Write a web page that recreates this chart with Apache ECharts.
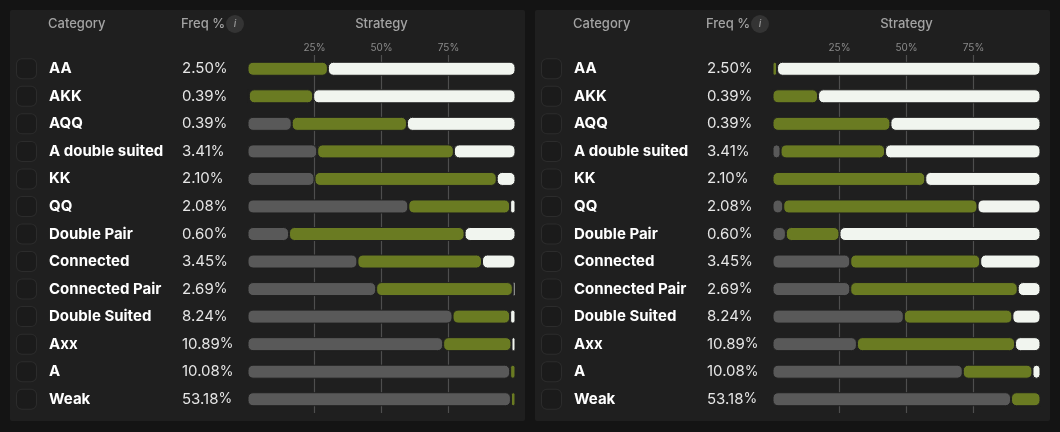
<!DOCTYPE html>
<html>
<head>
<meta charset="utf-8">
<script src="https://cdn.jsdelivr.net/npm/echarts@6/dist/echarts.min.js"></script>
<style>
html,body{margin:0;padding:0;background:#141414;}
#chart{width:1060px;height:432px;}
</style>
</head>
<body>
<div id="chart"></div>
<script>
var categories = ['AA','AKK','AQQ','A double suited','KK','QQ','Double Pair','Connected','Connected Pair','Double Suited','Axx','A','Weak'];
var freq = ['2.50','0.39','0.39','3.41','2.10','2.08','0.60','3.45','2.69','8.24','10.89','10.08','53.18'];
var tickLabels = ['25%','50%','75%'];

// left panel : gray / green / white (%)
var leftGray  = [0, 0.5, 16.5, 26, 25, 60, 15.5, 41, 48, 76.5, 73, 98, 98.3];
var leftGreen = [30, 24, 43, 51, 68, 38, 65.5, 46.5, 51, 21.5, 25.5, 2, 1.7];
var leftWhite = [70, 75.5, 40.5, 23, 7, 2, 19, 12.5, 1, 2, 1.5, 0, 0];

// right panel
var rightGray  = [0, 0, 0, 3, 0, 4, 5, 29, 29, 49, 31.5, 71, 89];
var rightGreen = [1.7, 17, 44, 39, 57, 72.5, 20, 48.5, 62.5, 40.5, 59, 26, 11];
var rightWhite = [98.3, 83, 56, 58, 43, 23.5, 75, 22.5, 8.5, 10.5, 9.5, 3, 0];

var FONT = 'Inter, "Noto Sans", sans-serif';
var PANEL = '#1f1f1f';
var panels = [
	{x:10, gridLeft:247.5, data:[leftGray, leftGreen, leftWhite]},
	{x:535, gridLeft:772.5, data:[rightGray, rightGreen, rightWhite]}
];
var colors = ['#595959', '#6a7b22', '#f1f5ef'];

var myChart = echarts.init(document.getElementById('chart'));
var grid = [], xAxis = [], yAxis = [], series = [], graphic = [];

panels.forEach(function(p, k){
	var off = p.x - 10;
	grid.push({left:p.gridLeft, width:268, top:55, height:358});
	xAxis.push({
		type:'value', gridIndex:k, min:0, max:100, interval:25, position:'top',
		axisLine:{show:false}, axisTick:{show:false},
		axisLabel:{
			margin:2, color:'#8a8a8a', fontSize:10, fontFamily:FONT,
			formatter:function(v){ return (v > 0 && v < 100) ? tickLabels[v / 25 - 1] : ''; }
		},
		splitLine:{show:true, lineStyle:{width:1.2, color:['rgba(0,0,0,0)','#4e4e4e','#4e4e4e','#4e4e4e','rgba(0,0,0,0)']}}
	});
	yAxis.push({
		type:'category', gridIndex:k, inverse:true, data:categories,
		axisLine:{show:false}, axisTick:{show:false}, splitLine:{show:false},
		axisLabel:{
			align:'left', margin:p.gridLeft - (17 + off),
			formatter:function(v, i){
				return '{c| }{g| }{n|' + v + '}{f|' + freq[i] + '}{p|%}';
			},
			rich:{
				c:{width:19, height:19, backgroundColor:'#1b1b1b', borderColor:'#2c2c2c', borderWidth:1, borderRadius:5},
				g:{width:13},
				n:{width:133, color:'#ffffff', fontWeight:'bold', fontSize:15, fontFamily:FONT},
				f:{color:'#e6e6e6', fontSize:15, fontFamily:FONT},
				p:{color:'#e6e6e6', fontSize:14, fontFamily:FONT}
			}
		}
	});
	p.data.forEach(function(arr, j){
		series.push({
			type:'bar', xAxisIndex:k, yAxisIndex:k, stack:'s' + k, data:arr,
			barWidth:14, silent:true,
			itemStyle:{color:colors[j], borderRadius:5, borderColor:PANEL, borderWidth:1}
		});
	});

	graphic.push({type:'rect', z:-10, shape:{x:p.x, y:10, width:515, height:411, r:2}, style:{fill:PANEL}});
	graphic.push({type:'text', style:{text:'Category', x:48 + off, y:24, fill:'#a3a3a3', font:'500 13px ' + FONT, verticalAlign:'middle'}});
	graphic.push({type:'text', style:{text:'Freq %', x:181 + off, y:24, fill:'#a3a3a3', font:'500 13px ' + FONT, verticalAlign:'middle'}});
	graphic.push({type:'circle', shape:{cx:235 + off, cy:24, r:9}, style:{fill:'#343434'}});
	graphic.push({type:'text', style:{text:'i', x:235 + off, y:24, fill:'#9a9a9a', font:'italic 500 10px ' + FONT, align:'center', verticalAlign:'middle'}});
	graphic.push({type:'text', style:{text:'Strategy', x:p.gridLeft + 134, y:24, fill:'#a3a3a3', font:'500 13px ' + FONT, align:'center', verticalAlign:'middle'}});
});

option = {
	backgroundColor:'#141414',
	animation:false,
	grid:grid,
	xAxis:xAxis,
	yAxis:yAxis,
	series:series,
	graphic:graphic
};
myChart.setOption(option);
</script>
</body>
</html>
